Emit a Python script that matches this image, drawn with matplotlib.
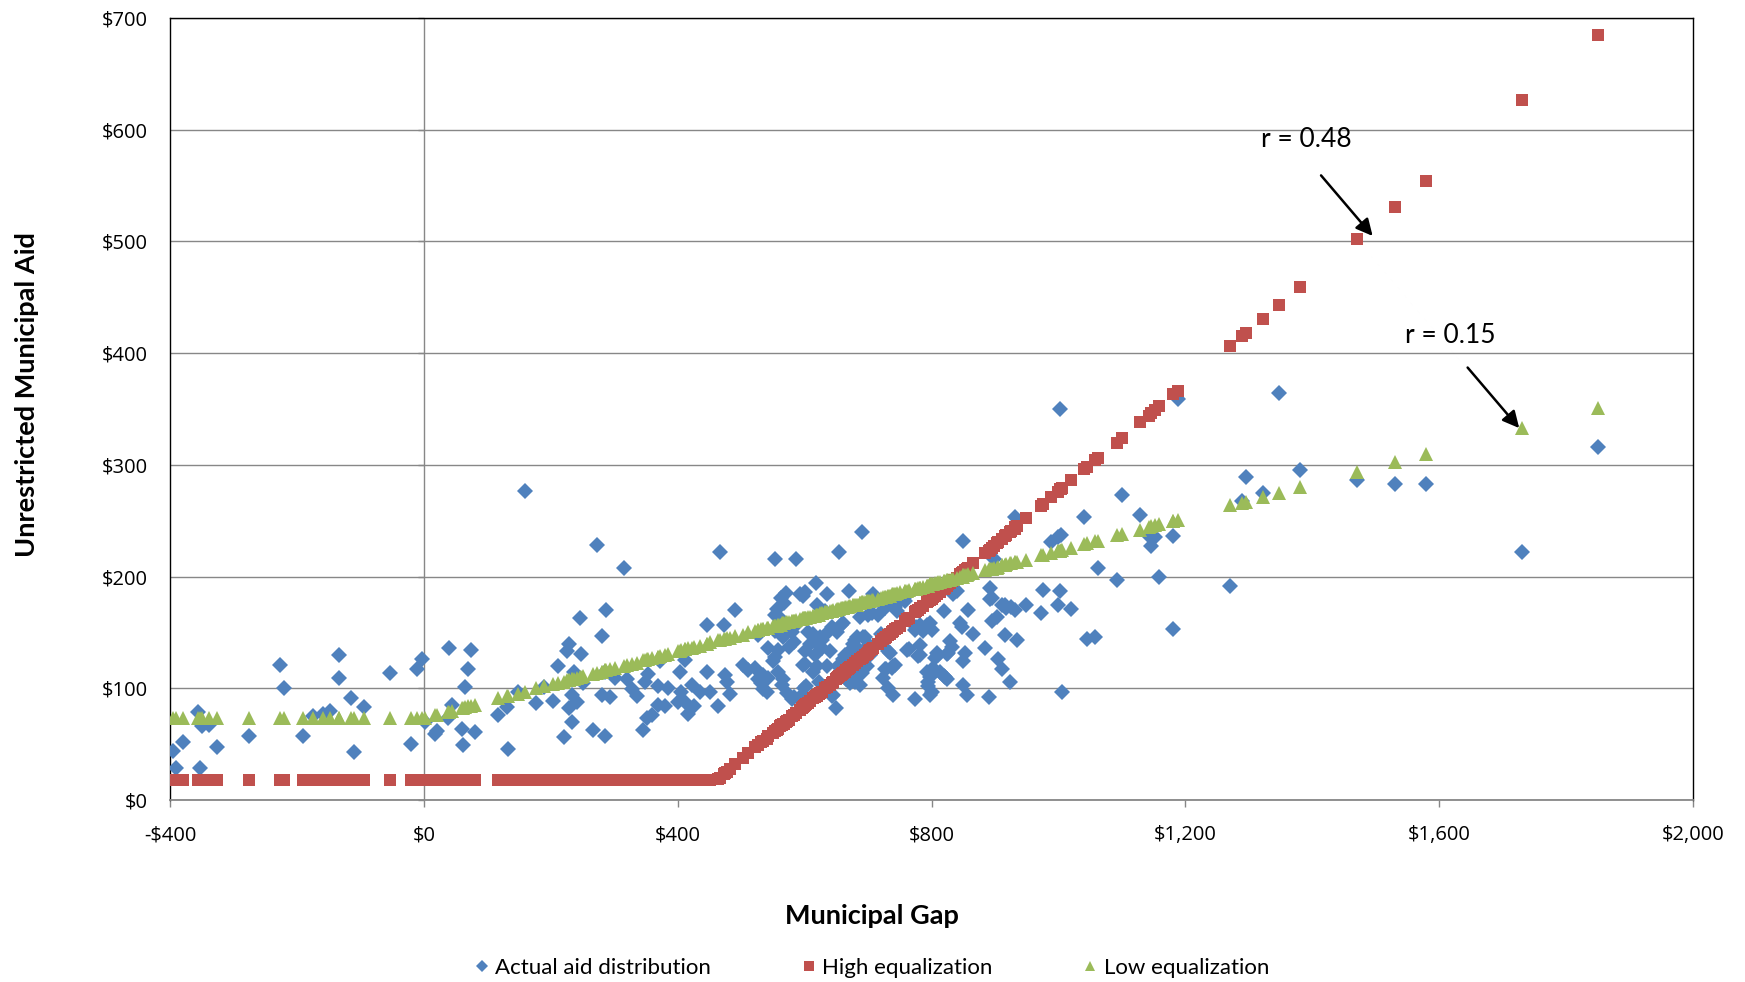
import numpy as np
import matplotlib
matplotlib.use("Agg")
import matplotlib.pyplot as plt

plt.rcParams['font.family'] = ['Lato', 'DejaVu Sans']

# municipal gap per town ($ per capita)
gap = [
    -395, -390, -379, -356, -353, -350, -338, -326, -275, -227,
    -220, -190, -174, -159, -148, -134, -133, -115, -110, -94,
    -54, -20, -11, -3, 2, 17, 20, 38, 39, 44,
    60, 61, 65, 70, 75, 81, 117, 131, 133, 148,
    159, 177, 190, 204, 212, 221, 225, 228, 229, 233,
    234, 236, 241, 246, 247, 251, 266, 273, 280, 280,
    285, 285, 287, 293, 301, 315, 320, 328, 336, 345,
    349, 351, 354, 359, 369, 369, 372, 380, 385, 401,
    403, 406, 412, 412, 417, 422, 425, 435, 446, 447,
    451, 464, 467, 473, 475, 477, 482, 491, 503, 511,
    522, 527, 527, 532, 535, 535, 540, 543, 543, 550,
    553, 553, 553, 554, 556, 558, 558, 562, 563, 564,
    566, 566, 567, 570, 572, 575, 580, 580, 583, 583,
    583, 587, 593, 596, 598, 598, 599, 601, 601, 601,
    603, 606, 609, 614, 614, 616, 618, 619, 619, 620,
    622, 624, 627, 627, 632, 632, 635, 635, 640, 643,
    643, 645, 649, 651, 653, 655, 658, 659, 661, 661,
    664, 666, 669, 670, 672, 677, 677, 680, 680, 682,
    682, 687, 687, 687, 690, 690, 692, 695, 698, 698,
    700, 701, 703, 706, 708, 716, 721, 724, 727, 727,
    729, 732, 732, 735, 735, 737, 740, 740, 743, 743,
    745, 750, 758, 758, 761, 764, 774, 774, 776, 779,
    782, 782, 782, 787, 793, 793, 795, 795, 798, 798,
    798, 800, 800, 803, 806, 808, 811, 813, 819, 819,
    821, 824, 824, 826, 829, 832, 834, 840, 845, 848,
    849, 850, 850, 853, 856, 858, 866, 884, 890, 892,
    892, 895, 895, 898, 903, 905, 911, 911, 916, 916,
    918, 924, 926, 931, 932, 934, 949, 973, 976, 989,
    1000, 1000, 1003, 1003, 1004, 1005, 1020, 1041, 1045, 1058,
    1063, 1092, 1100, 1128, 1142, 1146, 1152, 1159, 1181, 1181,
    1188, 1270, 1289, 1295, 1323, 1347, 1381, 1470, 1531, 1579,
    1731, 1851,
]

actual_aid = [
    44, 29, 52, 79, 29, 66, 67, 47, 57, 121,
    100, 57, 75, 77, 80, 109, 130, 91, 43, 83,
    114, 50, 117, 126, 70, 59, 62, 73, 136, 85,
    64, 49, 101, 117, 134, 61, 76, 83, 46, 97,
    277, 87, 101, 89, 120, 56, 133, 82, 140, 94,
    70, 115, 88, 163, 131, 105, 63, 228, 147, 94,
    57, 115, 170, 92, 109, 208, 108, 99, 93, 63,
    106, 73, 113, 76, 85, 102, 124, 84, 100, 88,
    115, 97, 88, 125, 77, 103, 84, 97, 115, 157,
    97, 84, 222, 157, 112, 106, 95, 170, 121, 116,
    118, 108, 148, 105, 112, 99, 97, 136, 109, 124,
    151, 166, 128, 216, 171, 115, 134, 163, 181, 103,
    146, 108, 176, 185, 96, 137, 90, 150, 141, 92,
    155, 216, 184, 94, 121, 183, 100, 133, 186, 122,
    102, 150, 140, 149, 115, 130, 194, 120, 140, 175,
    106, 146, 143, 136, 169, 148, 120, 184, 133, 155,
    93, 94, 82, 150, 120, 222, 157, 120, 158, 126,
    130, 108, 132, 187, 105, 110, 140, 143, 106, 146,
    124, 164, 133, 103, 114, 240, 146, 146, 137, 120,
    166, 139, 130, 167, 184, 166, 149, 109, 172, 117,
    117, 133, 100, 176, 132, 118, 120, 94, 173, 121,
    169, 179, 182, 178, 134, 135, 152, 90, 155, 129,
    157, 139, 130, 151, 115, 157, 106, 102, 110, 94,
    158, 152, 97, 118, 127, 132, 130, 115, 169, 111,
    110, 131, 108, 132, 142, 137, 184, 187, 158, 155,
    232, 103, 124, 132, 94, 170, 149, 136, 92, 190,
    180, 181, 160, 216, 164, 126, 175, 117, 148, 175,
    172, 106, 173, 253, 170, 143, 175, 167, 188, 231,
    235, 175, 350, 187, 237, 97, 171, 253, 144, 146,
    208, 197, 273, 255, 236, 227, 235, 200, 153, 236,
    359, 192, 268, 289, 275, 364, 295, 286, 283, 283,
    222, 316,
]

high_eq = [
    18, 18, 18, 18, 18, 18, 18, 18, 18, 18,
    18, 18, 18, 18, 18, 18, 18, 18, 18, 18,
    18, 18, 18, 18, 18, 18, 18, 18, 18, 18,
    18, 18, 18, 18, 18, 18, 18, 18, 18, 18,
    18, 18, 18, 18, 18, 18, 18, 18, 18, 18,
    18, 18, 18, 18, 18, 18, 18, 18, 18, 18,
    18, 18, 18, 18, 18, 18, 18, 18, 18, 18,
    18, 18, 18, 18, 18, 18, 18, 18, 18, 18,
    18, 18, 18, 18, 18, 18, 18, 18, 18, 18,
    18, 19, 20, 23, 24, 25, 28, 32, 38, 42,
    47, 49, 49, 52, 53, 53, 55, 57, 57, 60,
    62, 62, 62, 62, 63, 64, 64, 66, 67, 67,
    68, 68, 68, 70, 71, 72, 75, 75, 76, 76,
    76, 78, 81, 82, 83, 83, 84, 85, 85, 85,
    86, 87, 89, 91, 91, 92, 93, 93, 93, 94,
    95, 96, 97, 97, 100, 100, 101, 101, 103, 105,
    105, 106, 108, 109, 110, 111, 112, 113, 114, 114,
    115, 116, 117, 118, 119, 121, 121, 123, 123, 124,
    124, 126, 126, 126, 127, 127, 128, 130, 131, 131,
    132, 133, 134, 135, 136, 140, 142, 144, 145, 145,
    146, 148, 148, 149, 149, 150, 151, 151, 153, 153,
    154, 156, 160, 160, 162, 163, 168, 168, 169, 170,
    172, 172, 172, 174, 177, 177, 178, 178, 179, 179,
    179, 180, 180, 182, 183, 184, 186, 186, 189, 189,
    190, 192, 192, 193, 194, 196, 197, 199, 202, 203,
    204, 204, 204, 206, 207, 208, 212, 221, 223, 224,
    224, 226, 226, 227, 230, 231, 234, 234, 236, 236,
    237, 240, 241, 243, 244, 245, 252, 263, 265, 271,
    276, 276, 278, 278, 278, 279, 286, 296, 298, 304,
    306, 320, 324, 338, 344, 346, 349, 353, 363, 363,
    366, 406, 415, 418, 431, 443, 459, 502, 531, 554,
    627, 685,
]

low_eq = [
    73, 73, 73, 73, 73, 73, 73, 73, 73, 73,
    73, 73, 73, 73, 73, 73, 73, 73, 73, 73,
    73, 73, 73, 73, 73, 76, 76, 79, 79, 80,
    82, 82, 83, 84, 84, 85, 91, 93, 93, 95,
    97, 100, 102, 104, 105, 106, 107, 107, 107, 108,
    108, 108, 109, 110, 110, 111, 113, 114, 115, 115,
    116, 116, 116, 117, 118, 120, 121, 122, 123, 125,
    125, 126, 126, 127, 128, 128, 129, 130, 131, 133,
    133, 134, 135, 135, 136, 136, 137, 138, 140, 140,
    141, 143, 143, 144, 144, 145, 145, 147, 148, 150,
    151, 152, 152, 153, 153, 153, 154, 154, 154, 156,
    156, 156, 156, 156, 156, 157, 157, 157, 157, 158,
    158, 158, 158, 159, 159, 159, 160, 160, 160, 160,
    160, 161, 162, 162, 163, 163, 163, 163, 163, 163,
    163, 164, 164, 165, 165, 165, 166, 166, 166, 166,
    166, 167, 167, 167, 168, 168, 168, 168, 169, 169,
    169, 170, 170, 171, 171, 171, 172, 172, 172, 172,
    173, 173, 173, 174, 174, 175, 175, 175, 175, 175,
    175, 176, 176, 176, 177, 177, 177, 177, 178, 178,
    178, 178, 178, 179, 179, 180, 181, 182, 182, 182,
    182, 183, 183, 183, 183, 184, 184, 184, 184, 184,
    185, 186, 187, 187, 187, 188, 189, 189, 189, 190,
    190, 190, 190, 191, 192, 192, 192, 192, 193, 193,
    193, 193, 193, 193, 194, 194, 195, 195, 196, 196,
    196, 197, 197, 197, 197, 198, 198, 199, 200, 200,
    200, 201, 201, 201, 201, 202, 203, 206, 207, 207,
    207, 207, 207, 208, 208, 209, 210, 210, 210, 210,
    211, 212, 212, 213, 213, 213, 215, 219, 219, 221,
    223, 223, 223, 223, 224, 224, 226, 229, 230, 232,
    232, 237, 238, 242, 244, 245, 246, 247, 250, 250,
    251, 264, 266, 267, 271, 275, 280, 294, 303, 310,
    333, 351,
]

x_ticks = [-400, 0, 400, 800, 1200, 1600, 2000]
x_labels = ['-$400', '$0', '$400', '$800', '$1,200', '$1,600', '$2,000']
y_ticks = [0, 100, 200, 300, 400, 500, 600, 700]
y_labels = ['$0', '$100', '$200', '$300', '$400', '$500', '$600', '$700']

blue = '#4F81BD'
red = '#C0504D'
green = '#9BBB59'
grid_col = '#878787'

fig = plt.figure(figsize=(17.45, 9.82), dpi=100)
ax = fig.add_axes([170 / 1745, 1 - 800 / 982, 1523 / 1745, 782 / 982])

ax.set_xlim(-400, 2000)
ax.set_ylim(0, 700)

# gridlines + the vertical axis that crosses at $0
ax.set_axisbelow(True)
ax.yaxis.grid(True, color=grid_col, lw=1.0)
ax.axvline(0, color=grid_col, lw=1.0, zorder=1)
ax.plot(np.zeros(len(y_ticks)), y_ticks, ls='none', marker=0, ms=4,
        mew=1.0, color=grid_col, clip_on=False, zorder=1)

ax.plot(gap, actual_aid, ls='none', marker='D', ms=8.3, mew=0,
        color=blue, label='Actual aid distribution', zorder=3)
ax.plot(gap, high_eq, ls='none', marker='s', ms=9.2, mew=0,
        color=red, label='High equalization', zorder=4)
ax.plot(gap, low_eq, ls='none', marker='^', ms=10.5, mew=0,
        color=green, label='Low equalization', zorder=5)

for side in ['left', 'top', 'right']:
    ax.spines[side].set_color('black')
    ax.spines[side].set_linewidth(1.0)
ax.spines['bottom'].set_color(grid_col)
ax.spines['bottom'].set_linewidth(1.3)

ax.set_xticks(x_ticks)
ax.set_xticklabels(x_labels, family=['Open Sans', 'DejaVu Sans'])
ax.set_yticks(y_ticks)
ax.set_yticklabels(y_labels, family=['Open Sans', 'DejaVu Sans'])
ax.tick_params(axis='x', direction='out', length=5, width=1.0,
               color=grid_col, pad=13, labelsize=14.5)
ax.tick_params(axis='y', length=0, pad=16, labelsize=14.5)

ax.set_xlabel('Municipal Gap', fontsize=19.5, fontweight='bold')
ax.xaxis.set_label_coords(0.461, -0.133)
ax.set_ylabel('Unrestricted Municipal Aid', fontsize=19.5, fontweight='bold')
ax.yaxis.set_label_coords(-0.086, 0.518)

# correlation notes
ax.text(1391, 591, 'r = 0.48', fontsize=19, ha='center', va='center')
ax.annotate('', xy=(1498, 503), xytext=(1411, 561),
            arrowprops=dict(arrowstyle='-|>', color='black', lw=1.8,
                            mutation_scale=25))
ax.text(1617, 416, 'r = 0.15', fontsize=19, ha='center', va='center')
ax.annotate('', xy=(1729, 331), xytext=(1642, 389),
            arrowprops=dict(arrowstyle='-|>', color='black', lw=1.8,
                            mutation_scale=25))

fig.legend(loc='center', bbox_to_anchor=(0.4985, 1 - 968 / 982), ncol=3,
           frameon=False, fontsize=16, markerscale=0.75, handlelength=1.0,
           handletextpad=0.1, columnspacing=3.9)

fig.savefig('out.png', dpi=100)
